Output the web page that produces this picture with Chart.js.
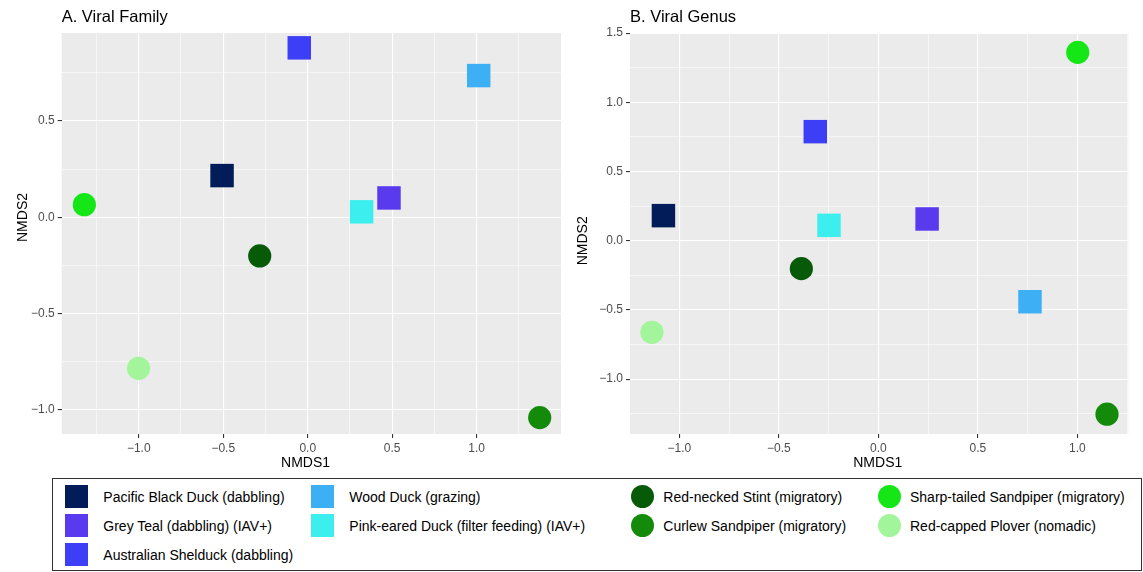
<!DOCTYPE html>
<html>
<head>
<meta charset="utf-8">
<script src="https://cdn.jsdelivr.net/npm/chart.js@4.4.1/dist/chart.umd.min.js"></script>
<style>
  html, body { margin: 0; padding: 0; background: #ffffff; }
  body { width: 1143px; height: 572px; position: relative; overflow: hidden;
         font-family: "Liberation Sans", Arial, Helvetica, sans-serif; }
  #family { position: absolute; left: 0; top: 0; }
  #genus  { position: absolute; left: 565px; top: 0; }
  #legend { position: absolute; left: 52px; top: 478px; width: 1090px; height: 93px;
            box-sizing: border-box; border: 1px solid #333333; }
  .key { position: absolute; width: 23px; height: 23px; }
  .key.circle { border-radius: 50%; }
  .lab { position: absolute; font-size: 14px; line-height: 16px; color: #000000; white-space: nowrap; }
</style>
</head>
<body>
<canvas id="family" width="565" height="472"></canvas>
<canvas id="genus" width="578" height="472"></canvas>
<div id="legend"></div>

<script>
// ---- Species (legend order) ----
const species = [
  'Pacific Black Duck (dabbling)',
  'Grey Teal (dabbling) (IAV+)',
  'Australian Shelduck (dabbling)',
  'Wood Duck (grazing)',
  'Pink-eared Duck (filter feeding) (IAV+)',
  'Red-necked Stint (migratory)',
  'Curlew Sandpiper (migratory)',
  'Sharp-tailed Sandpiper (migratory)',
  'Red-capped Plover (nomadic)'
];

// ---- NMDS ordination, viral family level ----
const familyNMDS1 = [-0.507, 0.481, -0.050, 1.012, 0.319, -0.284, 1.373, -1.322, -1.001];
const familyNMDS2 = [ 0.216, 0.100,  0.879, 0.735, 0.028, -0.201, -1.040, 0.065, -0.784];

// ---- NMDS ordination, viral genus level ----
const genusNMDS1 = [-1.080, 0.245, -0.317,  0.762, -0.248, -0.387,  1.149, 1.002, -1.138];
const genusNMDS2 = [ 0.181, 0.157,  0.788, -0.441,  0.111, -0.202, -1.254, 1.361, -0.662];

// ---- Tick values and labels ----
const familyXTicks = [-1.0, -0.5, 0.0, 0.5, 1.0];
const familyXLabels = ['\u22121.0', '\u22120.5', '0.0', '0.5', '1.0'];
const familyYTicks = [-1.0, -0.5, 0.0, 0.5];
const familyYLabels = ['\u22121.0', '\u22120.5', '0.0', '0.5'];
const genusXTicks = [-1.0, -0.5, 0.0, 0.5, 1.0];
const genusXLabels = ['\u22121.0', '\u22120.5', '0.0', '0.5', '1.0'];
const genusYTicks = [-1.0, -0.5, 0.0, 0.5, 1.0, 1.5];
const genusYLabels = ['\u22121.0', '\u22120.5', '0.0', '0.5', '1.0', '1.5'];

// ---- Styling ----
const palette = ['#021C5A', '#5A3AEE', '#3D3FF6', '#3DB0F5', '#3DEEEE',
                 '#075A07', '#148A0B', '#15E615', '#A3F59B'];
const markerShape = ['rect', 'rect', 'rect', 'rect', 'rect',
                     'circle', 'circle', 'circle', 'circle'];
const legendSlot = [[0,0],[0,1],[0,2],[1,0],[1,1],[2,0],[2,1],[3,0],[3,1]];

const FONT = '"Liberation Sans", Arial, Helvetica, sans-serif';
const near = (a, b) => Math.abs(a - b) < 1e-9;

// panel background behind the grid
const panelBg = {
  id: 'panelBg',
  beforeDraw(chart) {
    const { ctx, chartArea: a } = chart;
    ctx.save();
    ctx.fillStyle = '#EBEBEB';
    ctx.fillRect(a.left, a.top, a.right - a.left, a.bottom - a.top);
    ctx.restore();
  }
};

// axis captions (NMDS1 / NMDS2)
const axisCaptions = {
  id: 'axisCaptions',
  afterDraw(chart, args, o) {
    const { ctx, chartArea: a } = chart;
    ctx.save();
    ctx.font = '14px ' + FONT;
    ctx.fillStyle = '#000000';
    ctx.textAlign = 'center';
    ctx.textBaseline = 'alphabetic';
    ctx.fillText(o.xText, (a.left + a.right) / 2 + o.xShift, o.xBaseline);
    ctx.translate(o.yBaseline, (a.top + a.bottom) / 2 + o.yShift);
    ctx.rotate(-Math.PI / 2);
    ctx.fillText(o.yText, 0, 0);
    ctx.restore();
  }
};

function gridScale(min, max, majors, labels, fitFn) {
  return {
    type: 'linear',
    min: min, max: max,
    afterBuildTicks(scale) {
      const vals = [];
      for (let k = Math.ceil(min / 0.25 - 1e-9); k * 0.25 <= max + 1e-9; k++) vals.push(k * 0.25);
      scale.ticks = vals.map(v => ({ value: v }));
    },
    afterFit: fitFn,
    grid: {
      color: '#FFFFFF',
      lineWidth: c => majors.some(m => near(m, c.tick.value)) ? 1.1 : 0.55,
      tickColor: c => majors.some(m => near(m, c.tick.value)) ? '#333333' : 'rgba(0,0,0,0)',
      tickLength: 4,
      tickWidth: 1.1,
      drawTicks: true
    },
    border: { display: false },
    ticks: {
      autoSkip: false, maxRotation: 0, minRotation: 0, padding: 3,
      color: '#4D4D4D',
      font: { family: FONT, size: 12 },
      callback: v => {
        const i = majors.findIndex(m => near(m, v));
        return i >= 0 ? labels[i] : '';
      }
    }
  };
}

function buildChart(id, title, xs, ys, xr, yr, xt, xl, yt, yl, yAxisWidth, padRight, caption) {
  const datasets = species.map((name, i) => ({
    label: name,
    data: [{ x: xs[i], y: ys[i] }],
    pointStyle: markerShape[i],
    pointRadius: markerShape[i] === 'rect' ? 16.6 : 11.6,
    pointBackgroundColor: palette[i],
    pointBorderColor: palette[i],
    pointBorderWidth: 0,
    pointHoverRadius: markerShape[i] === 'rect' ? 16.6 : 11.6,
    showLine: false,
    clip: false
  }));
  return new Chart(document.getElementById(id), {
    type: 'scatter',
    data: { datasets },
    options: {
      responsive: false,
      animation: false,
      devicePixelRatio: 1,
      events: [],
      layout: { autoPadding: false, padding: { top: 0, left: 0, right: padRight, bottom: 0 } },
      scales: {
        x: gridScale(xr[0], xr[1], xt, xl, s => { s.height = 38; }),
        y: gridScale(yr[0], yr[1], yt, yl, s => { s.width = yAxisWidth; })
      },
      plugins: {
        legend: { display: false },
        tooltip: { enabled: false },
        title: {
          display: true, text: title, align: 'start', fullSize: false,
          color: '#000000',
          font: { family: FONT, size: 16.5, weight: 'normal' },
          padding: { top: 8, bottom: 5.2 }
        },
        axisCaptions: caption
      }
    },
    plugins: [panelBg, axisCaptions]
  });
}

buildChart('family', 'A. Viral Family', familyNMDS1, familyNMDS2,
  [-1.456, 1.499], [-1.125, 0.956],
  familyXTicks, familyXLabels, familyYTicks, familyYLabels,
  61.7, 4,
  { xText: 'NMDS1', yText: 'NMDS2', xShift: -5.8, xBaseline: 466.5, yBaseline: 26.7, yShift: -16 });

buildChart('genus', 'B. Viral Genus', genusNMDS1, genusNMDS2,
  [-1.248, 1.256], [-1.397, 1.501],
  genusXTicks, genusXLabels, genusYTicks, genusYLabels,
  65, 14.7,
  { xText: 'NMDS1', yText: 'NMDS2', xShift: -1.4, xBaseline: 466.5, yBaseline: 22.3, yShift: 7.3 });

// shared legend, four columns
const legendBox = document.getElementById('legend');
const keyLeft = [12, 257.7, 578, 824.7];
const textLeft = [50.3, 296.3, 610.3, 857];
const rowTop = [6, 35, 64];
species.forEach((name, i) => {
  const [c, r] = legendSlot[i];
  const key = document.createElement('div');
  key.className = 'key' + (markerShape[i] === 'circle' ? ' circle' : '');
  key.style.left = keyLeft[c] + 'px';
  key.style.top = rowTop[r] + 'px';
  key.style.background = palette[i];
  legendBox.appendChild(key);
  const lab = document.createElement('div');
  lab.className = 'lab';
  lab.textContent = name;
  lab.style.left = textLeft[c] + 'px';
  lab.style.top = (rowTop[r] + 3.5) + 'px';
  legendBox.appendChild(lab);
});
</script>
</body>
</html>
